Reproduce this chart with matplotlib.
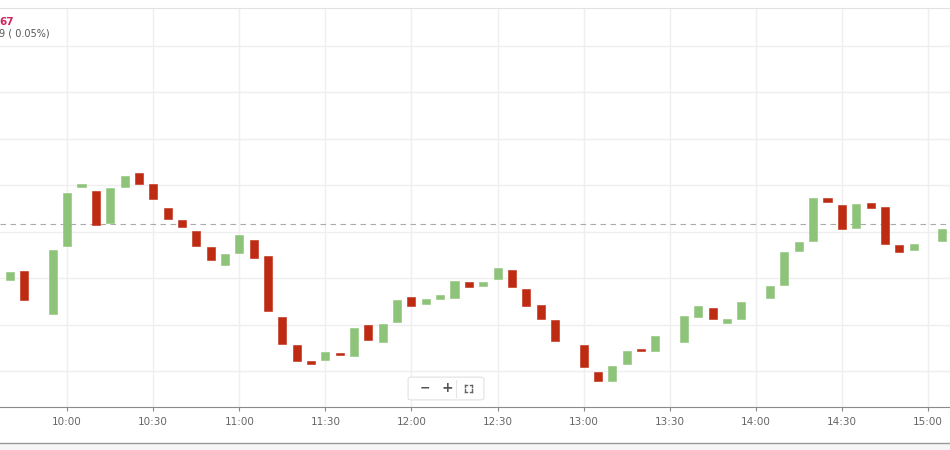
import datetime as dt
import matplotlib.pyplot as plt
import matplotlib.dates as mdates
from matplotlib.patches import FancyBboxPatch, Rectangle
from matplotlib.lines import Line2D

# 5-minute candles (no wicks), times as HH:MM
times = ['09:40', '09:45', '09:55', '10:00', '10:05', '10:10', '10:15', '10:20',
         '10:25', '10:30', '10:35', '10:40', '10:45', '10:50', '10:55', '11:00',
         '11:05', '11:10', '11:15', '11:20', '11:25', '11:30', '11:35', '11:40',
         '11:45', '11:50', '11:55', '12:00', '12:05', '12:10', '12:15', '12:20',
         '12:25', '12:30', '12:35', '12:40', '12:45', '12:50', '13:00', '13:05',
         '13:10', '13:15', '13:20', '13:25', '13:35', '13:40', '13:45', '13:50',
         '13:55', '14:05', '14:10', '14:15', '14:20', '14:25', '14:30', '14:35',
         '14:40', '14:45', '14:50', '14:55', '15:05']
opens = [7119.5, 7121.6, 7112.3, 7126.9, 7139.7, 7138.8, 7131.9, 7139.6,
         7142.6, 7140.3, 7135.1, 7132.6, 7130.2, 7126.7, 7122.9, 7125.4,
         7128.2, 7124.8, 7111.6, 7105.5, 7102.1, 7102.4, 7103.8, 7103.2,
         7109.8, 7106.3, 7110.6, 7115.9, 7114.5, 7115.4, 7115.8, 7119.2,
         7118.3, 7119.8, 7121.7, 7117.7, 7114.2, 7111.0, 7105.6, 7099.8,
         7097.8, 7101.4, 7104.7, 7104.3, 7106.2, 7111.6, 7113.6, 7110.4,
         7111.1, 7115.8, 7118.5, 7125.8, 7127.9, 7137.2, 7135.7, 7130.8,
         7136.1, 7135.3, 7127.1, 7126.0, 7127.9]
closes = [7121.3, 7115.2, 7126.1, 7138.4, 7140.3, 7131.5, 7139.5, 7142.1,
          7140.3, 7137.1, 7132.7, 7131.1, 7126.9, 7123.9, 7125.2, 7129.4,
          7124.4, 7112.9, 7105.8, 7102.2, 7101.6, 7104.1, 7103.4, 7109.3,
          7106.6, 7110.1, 7115.2, 7114.1, 7115.4, 7116.4, 7119.4, 7118.0,
          7119.2, 7122.1, 7118.0, 7114.1, 7111.2, 7106.5, 7100.9, 7097.8,
          7101.0, 7104.2, 7104.2, 7107.5, 7111.9, 7113.9, 7111.1, 7111.1,
          7114.8, 7118.3, 7125.7, 7127.7, 7137.2, 7136.3, 7130.5, 7135.9,
          7135.2, 7127.3, 7125.7, 7127.3, 7130.5]
prev_close = 7131.7
tick_labels = ['10:00', '10:30', '11:00', '11:30', '12:00', '12:30',
               '13:00', '13:30', '14:00', '14:30', '15:00']

day = dt.date(2023, 6, 1)
def to_dt(s):
    h, m = s.split(':')
    return dt.datetime.combine(day, dt.time(int(h), int(m)))

x = mdates.date2num([to_dt(t) for t in times])
green, red = '#8ec47a', '#bf2a12'
colors = [green if c >= o else red for o, c in zip(opens, closes)]
heights = [c - o for o, c in zip(opens, closes)]

fig = plt.figure(figsize=(9.5, 4.5), dpi=100)
ax = fig.add_axes([0, 1 - 407 / 450, 1, 399 / 450])

ax.bar(x, heights, bottom=opens, width=2.8 / 1440, color=colors,
       edgecolor=colors, linewidth=0.4, zorder=3)
ax.axhline(prev_close, color='#aaaaaa', lw=0.8, ls=(0, (5, 4)), zorder=2)

ax.set_xlim(mdates.date2num(to_dt('09:36')) + 0.6 / 1440,
            mdates.date2num(to_dt('15:07')) + 0.7 / 1440)
ax.set_ylim(7092.24, 7178.2)
ax.set_yticks(range(7100, 7171, 10))
ticks = mdates.date2num([to_dt(t) for t in tick_labels])
ax.set_xticks(ticks)
ax.set_xticklabels(tick_labels)
ax.grid(True, color='#efefef', lw=1, zorder=0)
ax.tick_params(axis='y', left=False, labelleft=False)
ax.tick_params(axis='x', length=3, color='#888888', labelcolor='#666666',
               labelsize=7.5, pad=4)
for s in ['left', 'right']:
    ax.spines[s].set_visible(False)
ax.spines['top'].set_color('#e2e2e2')
ax.spines['bottom'].set_color('#8a8a8a')

# header text (partially cut at left edge)
fig.text(-0.001, 1 - 22 / 450, '67', color='#d0245e', fontsize=7.5,
         fontweight='bold', va='center', ha='left')
fig.text(-0.001, 1 - 34 / 450, '9 ( 0.05%)', color='#555555', fontsize=7,
         va='center', ha='left')

# zoom controls
W, H = 950, 450
box = FancyBboxPatch((410 / W, 1 - 399 / H), 72 / W, 21 / H,
                     boxstyle='round,pad=0.002,rounding_size=0.004',
                     transform=fig.transFigure, facecolor='white',
                     edgecolor='#e2e2e2', lw=0.8, zorder=5)
fig.patches.append(box)
fig.text(425 / W, 1 - 388 / H, '\u2212', color='#555555', fontsize=9,
         fontweight='bold', ha='center', va='center', zorder=6)
fig.text(447.5 / W, 1 - 388 / H, '+', color='#555555', fontsize=10,
         fontweight='bold', ha='center', va='center', zorder=6)
fig.add_artist(Line2D([456 / W, 456 / W], [1 - 397 / H, 1 - 380 / H],
                      transform=fig.transFigure, color='#e6e6e6', lw=0.8,
                      zorder=7))
cx, cy = 468.5, 388
for sx in (-1, 1):
    for sy in (-1, 1):
        px, py = cx + sx * 3.5, cy + sy * 3.5
        fig.add_artist(Line2D([px / W, (px - sx * 2.2) / W], [1 - py / H, 1 - py / H],
                              transform=fig.transFigure, color='#666666', lw=1,
                              zorder=7))
        fig.add_artist(Line2D([px / W, px / W], [1 - py / H, 1 - (py - sy * 2.2) / H],
                              transform=fig.transFigure, color='#666666', lw=1,
                              zorder=7))

# bottom navigator edge
fig.patches.append(Rectangle((0, 0), 1, 1 - 443 / H, transform=fig.transFigure,
                             facecolor='#f6f6f6', edgecolor='none', zorder=0))
fig.add_artist(Line2D([0, 1], [1 - 443 / H, 1 - 443 / H], transform=fig.transFigure,
                      color='#999999', lw=1))

fig.savefig('out.png', dpi=100)
